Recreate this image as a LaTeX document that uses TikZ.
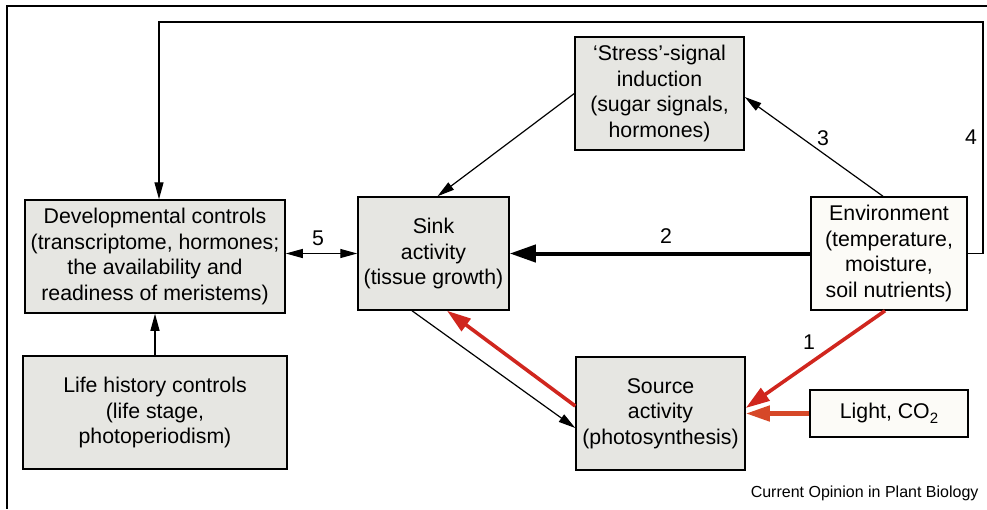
\documentclass[tikz,border=0pt]{standalone}
\usepackage{fontspec}
\setmainfont{Liberation Sans}
\usetikzlibrary{arrows.meta}
\definecolor{boxgray}{RGB}{230,230,226}
\definecolor{boxwhite}{RGB}{252,251,247}
\definecolor{fluxred}{RGB}{208,38,30}
\definecolor{lightred}{RGB}{214,72,40}
\tikzset{
  ctrl/.style={draw,line width=1.5pt,fill=boxgray,align=center,inner sep=0pt,
    font=\fontsize{21.3}{25.6}\selectfont},
  ext/.style={ctrl,fill=boxwhite},
  link/.style={-{Triangle[length=17pt,width=9pt]},line width=1.2pt},
  flux/.style={-{Triangle[length=24pt,width=15pt]},line width=3.6pt,fluxred},
  num/.style={font=\fontsize{21.3}{25.6}\selectfont}
}
\begin{document}
\begin{tikzpicture}[x=1pt,y=-1pt]
\useasboundingbox (0,0) rectangle (987,509);
\draw[line width=1.2pt] (987,6) -- (7,6) -- (7,509);
% boxes
\node[ctrl,minimum width=260pt,minimum height=113pt] (dev) at (155,256.5)
  {Developmental controls\\(transcriptome, hormones;\\the availability and\\readiness of meristems)};
\node[ctrl,minimum width=151pt,minimum height=113pt] (sink) at (433.5,253.5)
  {Sink\\activity\\(tissue growth)};
\node[ctrl,minimum width=169pt,minimum height=113pt] (stress) at (659.5,93.5)
  {‘Stress’-signal\\induction\\(sugar signals,\\hormones)};
\node[ext,minimum width=156pt,minimum height=113pt] (env) at (889,253.5)
  {Environment\\(temperature,\\moisture,\\soil nutrients)};
\node[ctrl,minimum width=264pt,minimum height=113pt] (life) at (155,412.5)
  {Life history controls\\(life stage,\\photoperiodism)};
\node[ctrl,minimum width=169pt,minimum height=113pt] (source) at (660.5,413.5)
  {Source\\activity\\(photosynthesis)};
\node[ext,minimum width=158pt,minimum height=47pt] (light) at (889,413.5)
  {Light, CO\raisebox{-0.45ex}{\fontsize{15}{15}\selectfont 2}};
% connectors
\coordinate (c4r) at (983,22);
\coordinate (c4l) at (159,22);
\draw[link] (env.east) -- (env.east -| c4r) -- (c4r) -- (c4l) -- (c4l |- dev.north);
\draw[link] ([xshift=-6pt]env.north) -- ([yshift=-3.5pt]stress.east);
\draw[link] (stress.west) -- ([xshift=4pt]sink.north);
\draw[-{Triangle[length=26pt,width=17pt]},line width=4pt] (env.west) -- (sink.east);
\draw[{Triangle[length=17pt,width=9pt]}-{Triangle[length=17pt,width=9pt]},line width=1.2pt]
  (sink.west -| dev.east) -- (sink.west);
\draw[link] (life.north) -- (dev.south);
\draw[link] ([xshift=-21.5pt]sink.south) -- ([yshift=-14.5pt]source.west);
\draw[flux] ([yshift=7.5pt]source.west) -- ([xshift=13.5pt]sink.south);
\draw[flux] ([xshift=-4pt]env.south) -- ([yshift=5.5pt]source.east);
\draw[flux,lightred,line width=4.5pt] (light.west) -- (light.west -| source.east);
% labels
\node[num] (lab1) at (809,342) {1};
\node[num] (lab2) at (666,236) {2};
\node[num] (lab3) at (823,138) {3};
\node[num] (lab4) at (971,137) {4};
\node[num] (lab5) at (318,238) {5};
\node[anchor=base east,font=\fontsize{16}{18}\selectfont] (credit) at (982,497)
  {Current Opinion in Plant Biology};
\end{tikzpicture}
\end{document}
